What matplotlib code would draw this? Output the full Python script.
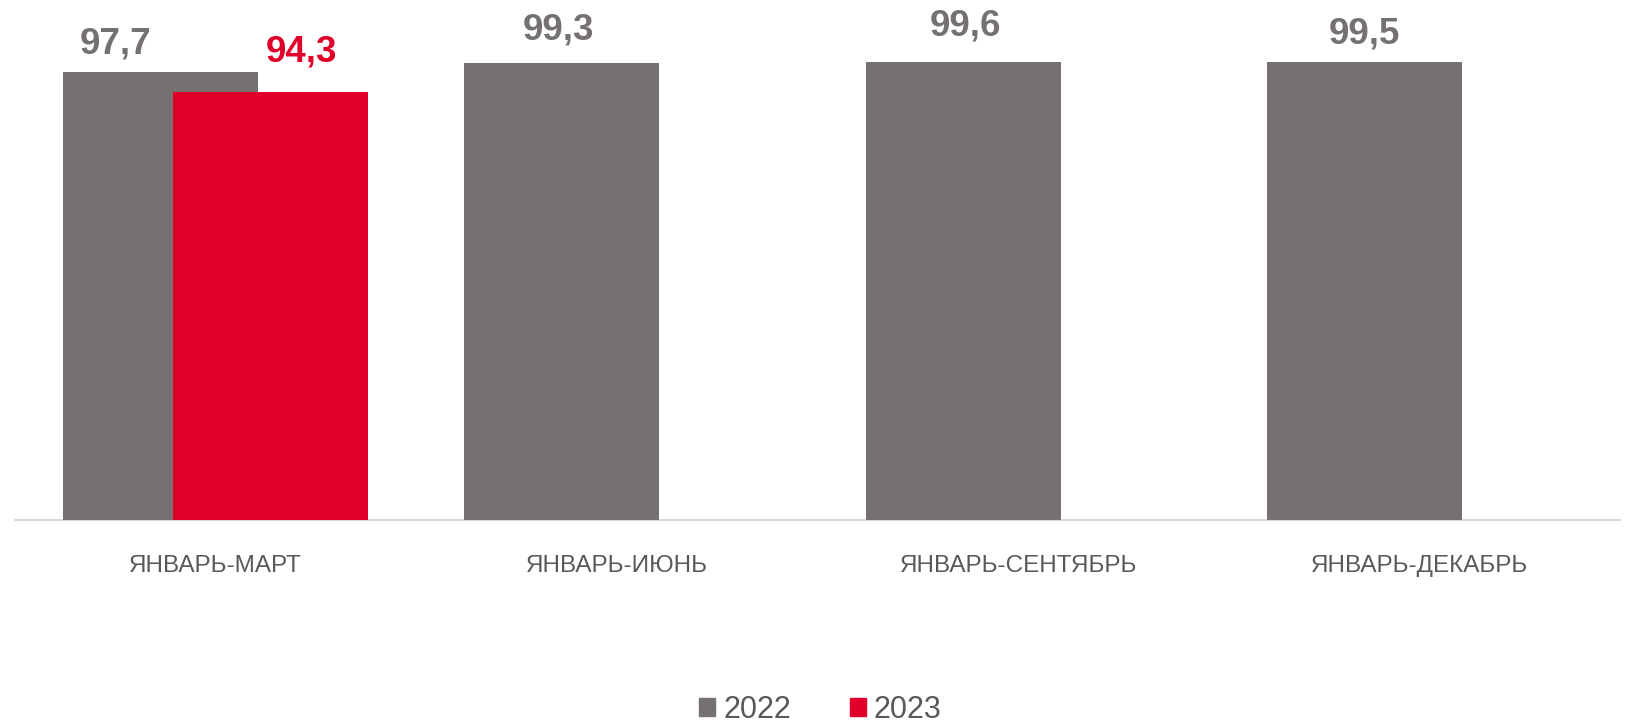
import matplotlib
matplotlib.use("Agg")
import matplotlib.pyplot as plt
from matplotlib.patches import Patch
import numpy as np

plt.rcParams['font.family'] = ['Liberation Sans', 'DejaVu Sans']

categories = ["ЯНВАРЬ-МАРТ", "ЯНВАРЬ-ИЮНЬ", "ЯНВАРЬ-СЕНТЯБРЬ", "ЯНВАРЬ-ДЕКАБРЬ"]
values_2022 = [97.7, 99.3, 99.6, 99.5]
values_2023 = [94.3]
series_names = ["2022", "2023"]

GREY = "#767171"
RED = "#E0002A"
TXT = "#595959"

# label offsets (pixels) relative to bar top-centre, as placed in the original
offs_2022 = [(-45, 19), (-3, 24), (2, 26), (0, 19)]
offs_2023 = [(31, 30)]

fig = plt.figure(figsize=(16.29, 7.24), dpi=100)
ax = fig.add_axes([15/1629, 204/724, 1605/1629, 520/724])

x = np.arange(len(categories))
width = 0.486
shift = 0.137

b1 = ax.bar(x - shift, values_2022, width, color=GREY, linewidth=0, zorder=2)
x2 = x[:len(values_2023)]
b2 = ax.bar(x2 + shift, values_2023, width, color=RED, linewidth=0, zorder=3)

px = 72 / 100.0
for rect, v, (dx, dy) in zip(b1, values_2022, offs_2022):
    ax.annotate(f"{v:.1f}".replace(".", ","),
                (rect.get_x() + rect.get_width()/2, rect.get_height()),
                xytext=(dx*px, dy*px), textcoords="offset points",
                ha="center", va="baseline", fontsize=26.5, fontweight="bold",
                color=GREY)
for rect, v, (dx, dy) in zip(b2, values_2023, offs_2023):
    ax.annotate(f"{v:.1f}".replace(".", ","),
                (rect.get_x() + rect.get_width()/2, rect.get_height()),
                xytext=(dx*px, dy*px), textcoords="offset points",
                ha="center", va="baseline", fontsize=26.5, fontweight="bold",
                color=RED)

ax.set_xlim(-0.5, len(categories) - 0.5)
ax.set_ylim(19.2, 110.4)
ax.set_xticks(x)
ax.set_xticklabels(categories, fontsize=17.5, color=TXT)
ax.tick_params(axis="x", length=0, pad=25.5)
ax.set_yticks([])
for s in ["top", "left", "right"]:
    ax.spines[s].set_visible(False)
ax.spines["bottom"].set_color("#D9D9D9")
ax.spines["bottom"].set_linewidth(1.5)
ax.spines["bottom"].set_zorder(1)
ax.patch.set_visible(False)

handles = [Patch(color=GREY, label=series_names[0]), Patch(color=RED, label=series_names[1])]
leg = fig.legend(handles=handles, loc="center", bbox_to_anchor=(0.5037, 0.02),
                 ncol=2, frameon=False, fontsize=22, handlelength=0.52,
                 handleheight=0.52, handletextpad=0.26, columnspacing=1.93,
                 borderpad=0, borderaxespad=0)
for t in leg.get_texts():
    t.set_color(TXT)

fig.savefig("out.png", dpi=100)
